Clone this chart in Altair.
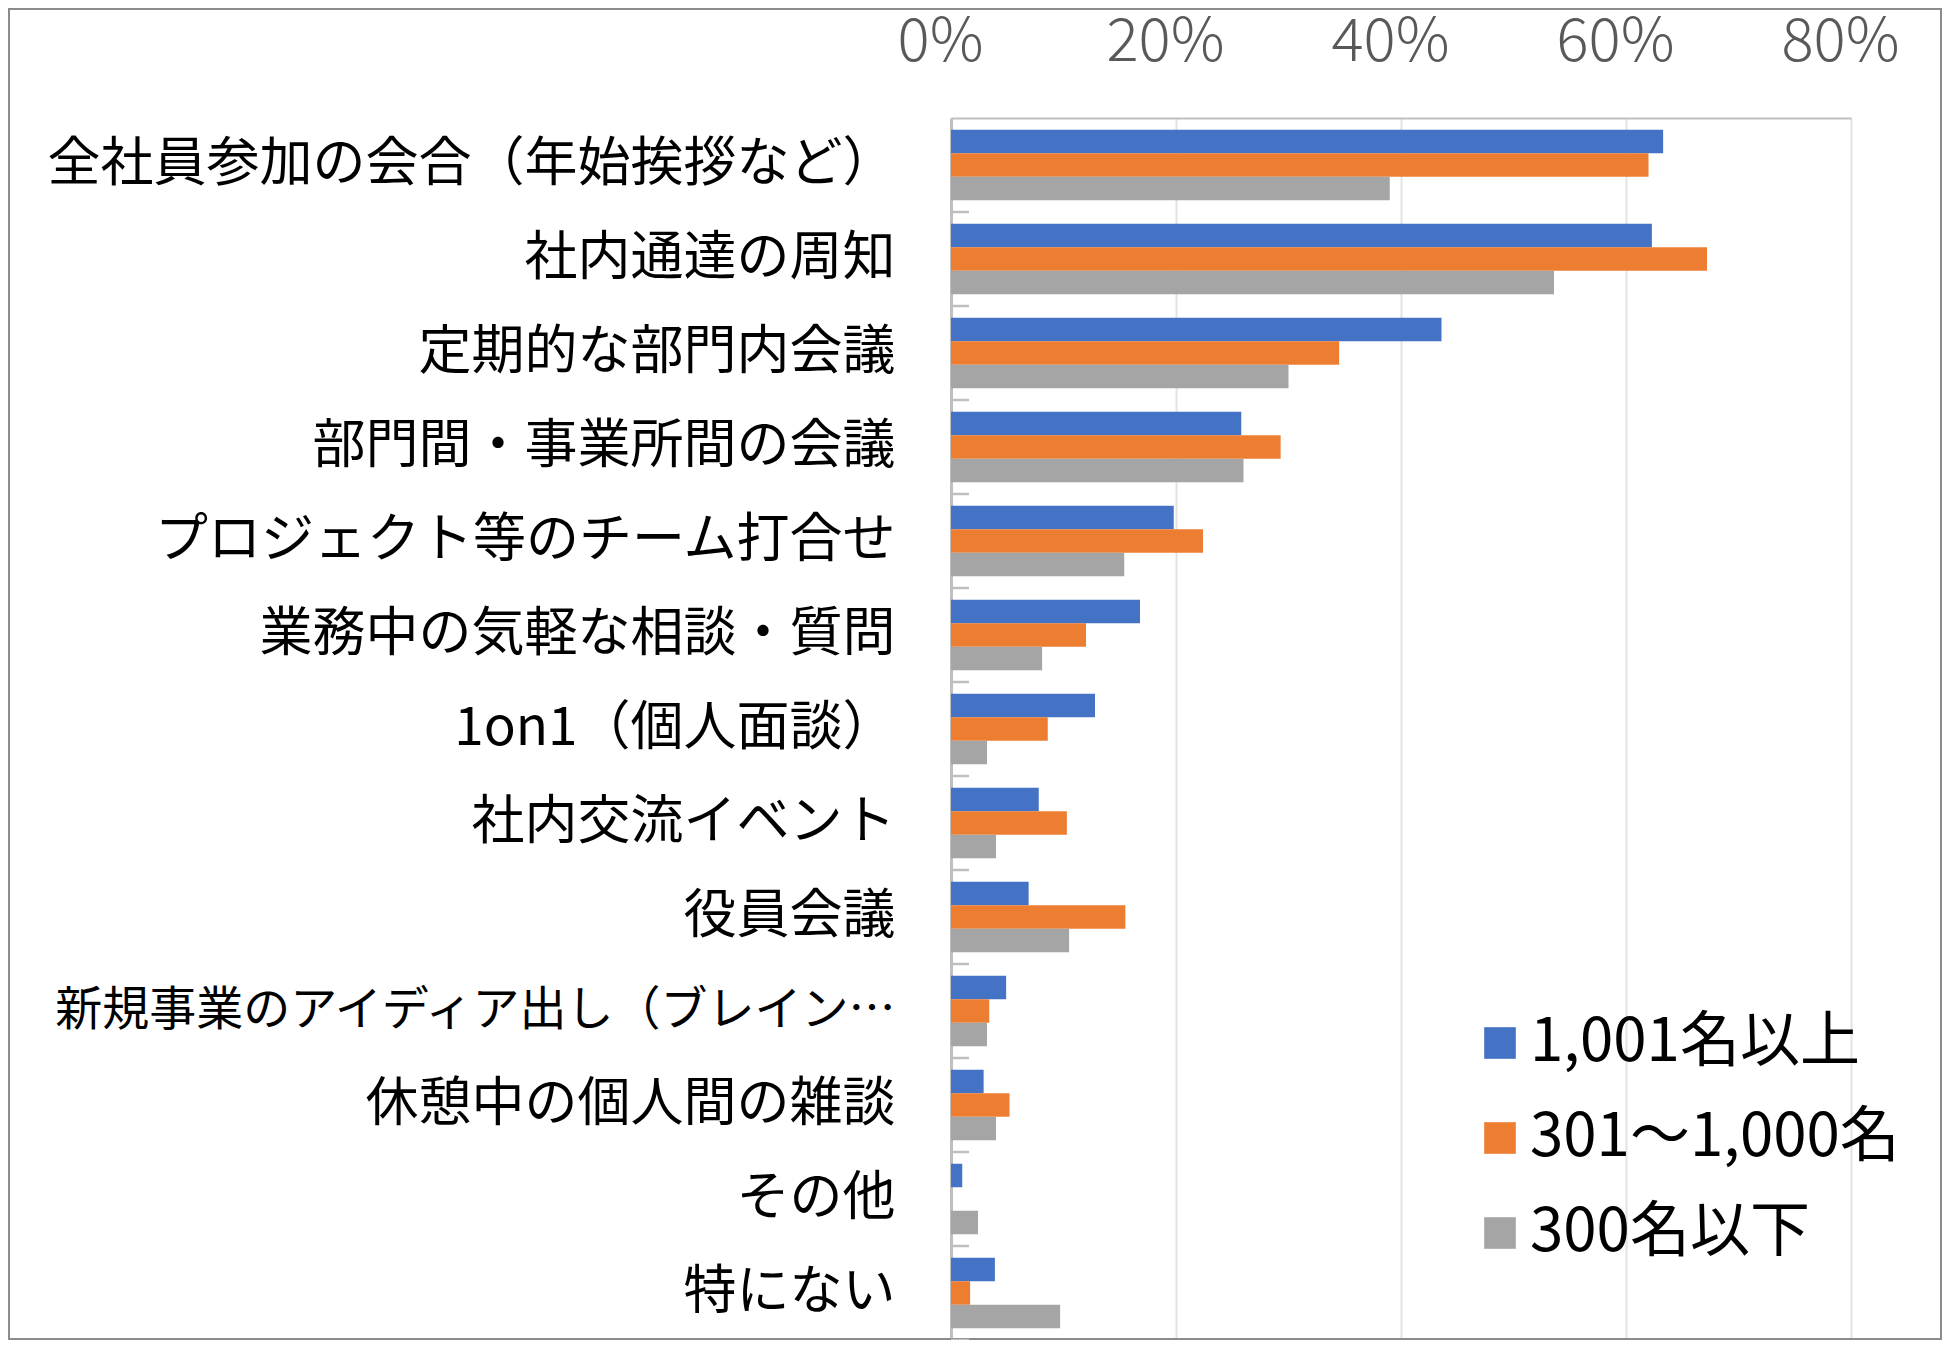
import altair as alt
import pandas as pd

categories = [
    "全社員参加の会合（年始挨拶など）",
    "社内通達の周知",
    "定期的な部門内会議",
    "部門間・事業所間の会議",
    "プロジェクト等のチーム打合せ",
    "業務中の気軽な相談・質問",
    "1on1（個人面談）",
    "社内交流イベント",
    "役員会議",
    "新規事業のアイディア出し（ブレイン…",
    "休憩中の個人間の雑談",
    "その他",
    "特にない",
]
series = ["1,001名以上", "301～1,000名", "300名以下"]
colors = ["#4472C4", "#ED7D31", "#A5A5A5"]
vals_large = [63.3, 62.3, 43.6, 25.8, 19.8, 16.8, 12.8, 7.8, 6.9, 4.9, 2.9, 1.0, 3.9]
vals_mid = [62.0, 67.2, 34.5, 29.3, 22.4, 12.0, 8.6, 10.3, 15.5, 3.4, 5.2, 0.0, 1.7]
vals_small = [39.0, 53.6, 30.0, 26.0, 15.4, 8.1, 3.2, 4.0, 10.5, 3.2, 4.0, 2.4, 9.7]
x_ticks = [0, 0.2, 0.4, 0.6, 0.8]

rows = []
for s, vals in zip(series, [vals_large, vals_mid, vals_small]):
    for c, v in zip(categories, vals):
        rows.append({"cat": c, "series": s, "value": v / 100.0})
df = pd.DataFrame(rows)
df_cat = pd.DataFrame({"cat": categories})

W = 900
H = 1222
PAD_L = 943
PAD_T = 110
PAD_R = 1934 - PAD_L - W
STEP = H / len(categories)

JP = "Noto Sans CJK JP"
long_label = categories[9]

y_enc = alt.Y(
    "cat:N",
    sort=categories,
    scale=alt.Scale(domain=categories, paddingInner=0.25, paddingOuter=0.125),
    axis=alt.Axis(
        title=None,
        labelFont=JP,
        labelFontSize={
            "condition": {"test": f"datum.value === '{long_label}'", "value": 47},
            "value": 53,
        },
        labelColor="#000000",
        labelPadding=56,
        labelLimit=1000,
        ticks=False,
        domain=True,
        domainColor="#BFBFBF",
        domainWidth=3,
        grid=False,
    ),
)

bars = alt.Chart(df).mark_bar().encode(
    x=alt.X(
        "value:Q",
        scale=alt.Scale(domain=[0, 0.8], nice=False, zero=True),
        axis=alt.Axis(
            orient="top",
            title=None,
            format=".0%",
            values=x_ticks,
            labelFont=JP,
            labelFontWeight=300,
            labelFontSize=60,
            labelColor="#595959",
            labelPadding=45,
            labelOffset=-11,
            labelFlush=False,
            labelOverlap=False,
            ticks=False,
            domain=True,
            domainColor="#BFBFBF",
            domainWidth=2,
            grid=True,
            gridColor="#E3E3E3",
            gridWidth=2,
        ),
    ),
    y=y_enc,
    yOffset=alt.YOffset(
        "series:N",
        sort=series,
        scale=alt.Scale(domain=series, paddingInner=0, paddingOuter=0),
    ),
    color=alt.Color(
        "series:N",
        sort=series,
        scale=alt.Scale(domain=series, range=colors),
        legend=alt.Legend(
            title=None,
            orient="none",
            legendX=519,
            legendY=895,
            symbolType="square",
            symbolSize=1000,
            symbolStrokeWidth=0,
            labelFont=JP,
            labelFontSize=60,
            labelColor="#000000",
            labelOffset=0,
            rowPadding=35,
            labelLimit=600,
        ),
    ),
)

ticks = alt.Chart(df_cat).mark_rule(color="#BFBFBF", strokeWidth=2.5, yOffset=STEP * 0.125).encode(
    y=alt.Y("cat:N", sort=categories, bandPosition=1),
    x=alt.value(0),
    x2=alt.value(18),
)

frame = alt.Chart(pd.DataFrame({"k": [0]})).mark_rect(
    fill=None, stroke="#8C8C8C", strokeWidth=2
).encode(
    x=alt.value(-PAD_L + 1),
    x2=alt.value(W + PAD_R - 1),
    y=alt.value(-PAD_T + 1),
    y2=alt.value(H - 1),
)

chart = (
    alt.layer(frame, bars, ticks)
    .resolve_scale(y="shared")
    .properties(
        width=W,
        height=H,
        padding={"left": PAD_L, "top": PAD_T, "right": PAD_R, "bottom": 0},
        autosize=alt.AutoSizeParams(type="none"),
        background="#FFFFFF",
    )
    .configure_view(stroke=None)
)

chart.save("out.html", embed_options={"renderer": "svg", "actions": False})
